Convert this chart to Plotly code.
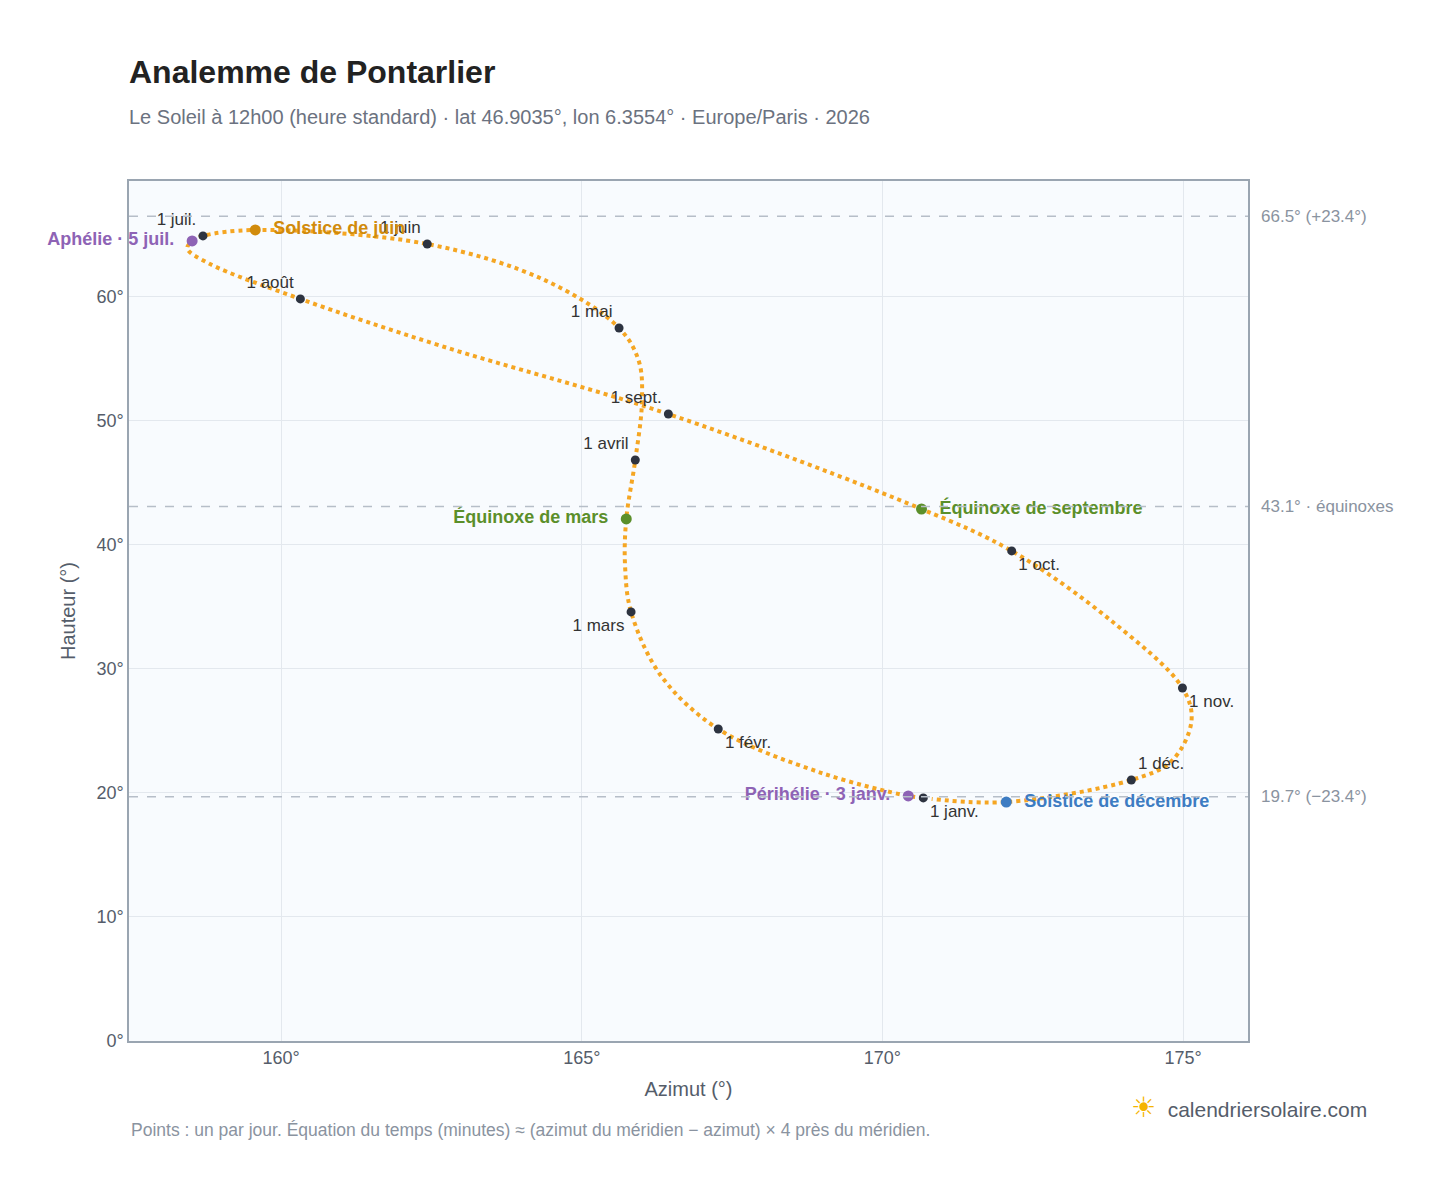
import plotly.graph_objects as go

# path of the sun at 12h00 (azimut, hauteur)
path_az = [170.68, 170.43, 168.99, 167.27, 166.32, 165.82, 165.72, 165.74, 165.89, 166.00,
           165.95, 165.62, 164.41, 162.43, 159.57, 158.70, 158.52, 158.44, 158.80, 160.32, 162.66, 166.44,
           170.65, 172.15, 173.81, 174.99, 175.14, 174.81, 174.14, 172.06, 170.82]
path_alt = [19.60, 19.76, 21.61, 25.16, 29.44, 34.60, 38.31, 42.10, 46.85, 51.50,
            54.80, 57.50, 61.30, 64.27, 65.40, 64.92, 64.52, 63.90, 62.70, 59.84, 56.05, 50.56,
            42.90, 39.52, 33.87, 28.47, 25.81, 22.58, 21.05, 19.27, 19.52]

month_labels = ["1 janv.", "1 févr.", "1 mars", "1 avril", "1 mai", "1 juin",
                "1 juil.", "1 août", "1 sept.", "1 oct.", "1 nov.", "1 déc."]
month_az = [170.68, 167.27, 165.82, 165.89, 165.62, 162.43, 158.70, 160.32, 166.44, 172.15, 174.99, 174.14]
month_alt = [19.60, 25.16, 34.60, 46.85, 57.50, 64.27, 64.92, 59.84, 50.56, 39.52, 28.47, 21.05]
month_pos = ["bottom right", "bottom right", "bottom left", "top left", "top left", "top left",
             "top left", "top left", "top left", "bottom right", "bottom right", "top right"]

event_labels = ["Aphélie · 5 juil.", "Solstice de juin", "Équinoxe de mars",
                "Équinoxe de septembre", "Périhélie · 3 janv.", "Solstice de décembre"]
event_az = [158.52, 159.57, 165.74, 170.65, 170.43, 172.06]
event_alt = [64.52, 65.40, 42.10, 42.90, 19.76, 19.27]
event_col = ["#8e63b5", "#d18b0c", "#5b8f2a", "#5b8f2a", "#8e63b5", "#3d7cc2"]
event_pos = ["middle left", "middle right", "middle left", "middle right", "middle left", "middle right"]

ref_alt = [66.5, 43.1, 19.7]
ref_text = ["66.5° (+23.4°)", "43.1° · équinoxes", "19.7° (−23.4°)"]

x_ticks = [160, 165, 170, 175]

fig = go.Figure()
fig.add_trace(go.Scatter(x=path_az, y=path_alt, mode="lines",
                         line=dict(color="#f5a623", width=4, dash="dot", shape="spline", smoothing=1.0),
                         hoverinfo="skip", showlegend=False))
fig.add_trace(go.Scatter(x=month_az, y=month_alt, mode="markers+text", text=month_labels,
                         textposition=month_pos, textfont=dict(size=17, color="#333"),
                         marker=dict(size=9, color="#2d3340"), showlegend=False, cliponaxis=False))
for lab, a, h, c, p in zip(event_labels, event_az, event_alt, event_col, event_pos):
    fig.add_trace(go.Scatter(x=[a], y=[h], mode="markers+text", text=["  " + lab + "  "],
                             textposition=p, textfont=dict(size=18, color=c),
                             texttemplate="<b>%{text}</b>", cliponaxis=False,
                             marker=dict(size=11, color=c), showlegend=False))

for h, t in zip(ref_alt, ref_text):
    fig.add_hline(y=h, line=dict(color="#b6bec8", width=1.5, dash="dash"))
    fig.add_annotation(x=1.01, xref="paper", y=h, yref="y", text=t, showarrow=False,
                       xanchor="left", font=dict(size=17, color="#8a93a0"))

fig.add_annotation(x=0, xref="paper", y=-0.118, yref="paper",
                   text="Points : un par jour. Équation du temps (minutes) ≈ (azimut du méridien − azimut) × 4 près du méridien.",
                   showarrow=False, xanchor="left", font=dict(size=17.5, color="#8a93a0"))
fig.add_annotation(x=1.108, xref="paper", y=-0.098, yref="paper",
                   text="<span style='color:#f5b400;font-size:28px'>☀</span>  calendriersolaire.com",
                   showarrow=False, xanchor="right", font=dict(size=21, color="#555d6a"))

fig.update_layout(
    width=1448, height=1188,
    margin=dict(l=121, r=208, t=173, b=155),
    paper_bgcolor="white", plot_bgcolor="#f8fbfe",
    font=dict(family="Liberation Sans, Arial", color="#555d6a"),
    title=dict(text="<b>Analemme de Pontarlier</b><br><span style='font-size:20px;color:#6b7280'>Le Soleil à 12h00 (heure standard) · lat 46.9035°, lon 6.3554° · Europe/Paris · 2026</span>",
               x=0, xref="paper", y=0.937, yanchor="top", font=dict(size=32, color="#222")),
)
fig.update_xaxes(range=[157.47, 176.08], tickvals=x_ticks, ticktext=[f"{v}°" for v in x_ticks],
                 title=dict(text="Azimut (°)", font=dict(size=20)), tickfont=dict(size=18),
                 gridcolor="#e3e8ee", showline=True, linecolor="#9aa5b1", linewidth=1.5, mirror=True,
                 zeroline=False)
fig.update_yaxes(range=[0, 69.35], dtick=10, ticksuffix="°",
                 title=dict(text="Hauteur (°)", font=dict(size=20)), tickfont=dict(size=18),
                 gridcolor="#e3e8ee", showline=True, linecolor="#9aa5b1", linewidth=1.5, mirror=True,
                 zeroline=False)

fig.write_html("out.html")
